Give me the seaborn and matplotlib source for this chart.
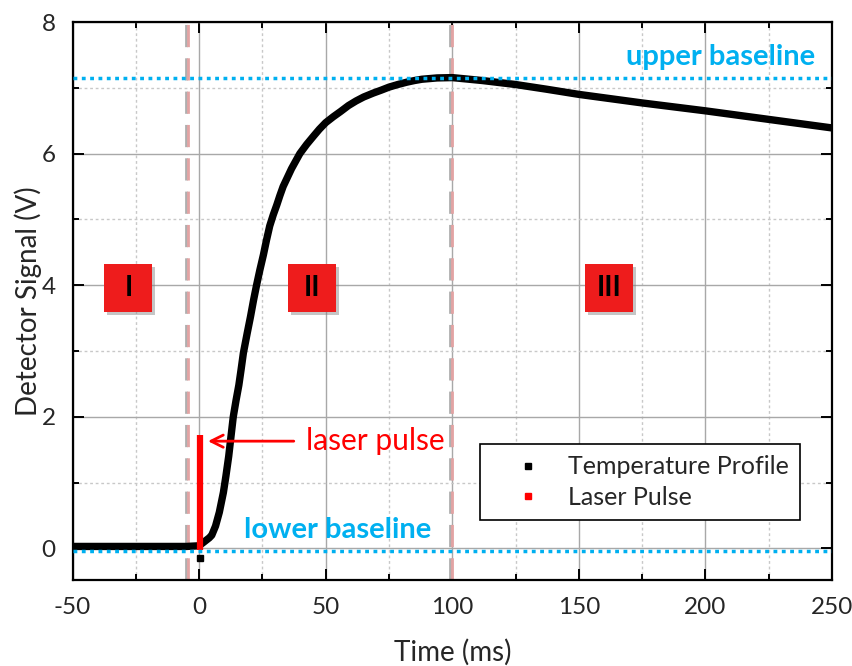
import matplotlib
matplotlib.use("Agg")
import matplotlib.pyplot as plt
import matplotlib.transforms as mtransforms
from matplotlib.lines import Line2D
from matplotlib.ticker import MultipleLocator
import seaborn as sns
import pandas as pd

# ---- data ----
time_ms = [-50, -40, -30, -20, -10, -5, 0, 1, 2, 3, 4, 5, 6.5, 8, 9.6, 10.6, 11.7, 12.6,
           13.5, 14.6, 15.7, 16.6, 17.5, 19, 20.3, 21.5, 22.7, 24, 25.4, 26.6, 27.9,
           29.3, 30.7, 31.9, 33.2, 36.5, 39.8, 42.5, 45.3, 47.5, 50, 53, 55.9, 59, 62,
           65, 68.8, 72, 75, 78.5, 82, 85, 88, 94, 100, 112, 125, 137, 150, 175, 200,
           225, 250]
signal_v = [0.03, 0.03, 0.03, 0.03, 0.03, 0.03, 0.04, 0.07, 0.10, 0.13, 0.16, 0.20, 0.34,
            0.55, 0.85, 1.10, 1.40, 1.70, 2.00, 2.25, 2.48, 2.72, 2.97, 3.27, 3.52, 3.77,
            4.00, 4.23, 4.46, 4.68, 4.90, 5.07, 5.22, 5.36, 5.50, 5.77, 6.00, 6.14, 6.27,
            6.37, 6.47, 6.56, 6.64, 6.73, 6.80, 6.86, 6.92, 6.965, 7.01, 7.05, 7.085, 7.11,
            7.13, 7.15, 7.155, 7.11, 7.05, 6.98, 6.90, 6.77, 6.65, 6.52, 6.39]
laser_t = [0.3, 0.3]
laser_v = [-0.02, 1.72]
outlier_t = [0.3]
outlier_v = [-0.15]
upper_baseline = 7.15
lower_baseline = -0.04
region_lines = [-4.3, 100]
region_labels = ["I", "II", "III"]
region_x = [-27.9, 44.7, 162]
region_y = [3.95, 3.95, 3.95]

df = pd.DataFrame({"t": time_ms, "v": signal_v})
dl = pd.DataFrame({"t": laser_t, "v": laser_v})

sns.set_style("ticks")
FONT = ["Lato", "DejaVu Sans"]
plt.rcParams["font.family"] = FONT
plt.rcParams["axes.unicode_minus"] = False

fig = plt.figure(figsize=(8.52, 6.66), dpi=100)
ax = fig.add_axes([72.5 / 852, 86 / 666, 759.5 / 852, 558 / 666])

BLUE = "#00B0F0"
PINK = "#E3A3A3"

# grid
ax.xaxis.set_major_locator(MultipleLocator(50))
ax.xaxis.set_minor_locator(MultipleLocator(25))
ax.yaxis.set_major_locator(MultipleLocator(2))
ax.yaxis.set_minor_locator(MultipleLocator(1))
ax.grid(which="major", color="#A8A8A8", lw=1.0, ls="-", zorder=0)
ax.grid(which="minor", color="#C8C8C8", lw=1.0, ls=(0, (2, 2)), zorder=0)
ax.set_axisbelow(True)

# region separators with shadow
xt = ax.get_xaxis_transform()
shadow_v = mtransforms.offset_copy(xt, fig=fig, x=-2, y=0, units="dots")
for xv in region_lines:
    ax.plot([xv, xv], [0, 1], color="#AFAFAF", lw=2.0, ls=(0, (8, 4)),
            transform=shadow_v, zorder=1)
    ax.plot([xv, xv], [0, 1], color=PINK, lw=2.0, ls=(0, (8, 4)),
            transform=xt, zorder=1.1)

# data
sns.lineplot(data=df, x="t", y="v", ax=ax, color="black", lw=5.3, legend=False,
             zorder=3, solid_capstyle="butt", solid_joinstyle="round",
             estimator=None, sort=False)
sns.lineplot(data=dl, x="t", y="v", ax=ax, color="red", lw=4.5, legend=False,
             zorder=4, solid_capstyle="butt", estimator=None, sort=False)
ax.plot(outlier_t, outlier_v, ls="none", marker="s", ms=5, color="black", zorder=3)

# baselines
ax.axhline(upper_baseline, color=BLUE, lw=2.5, ls=(0, (1.1, 1.3)), zorder=5)
ax.axhline(lower_baseline, color=BLUE, lw=2.5, ls=(0, (1.1, 1.3)), zorder=5)
ax.text(205.8, 7.47, "upper baseline", color=BLUE, fontsize=21, fontweight="bold",
        ha="center", va="center", zorder=6)
ax.text(54.9, 0.28, "lower baseline", color=BLUE, fontsize=21, fontweight="bold",
        ha="center", va="center", zorder=6)

# laser pulse annotation
ax.annotate("", xy=(2.4, 1.63), xytext=(38.5, 1.63),
            arrowprops=dict(arrowstyle="->", color="red", lw=2, mutation_scale=22),
            zorder=6)
ax.text(69.5, 1.63, "laser pulse", color="red", fontsize=21.5, ha="center",
        va="center", zorder=6)

# region boxes
shadow_t = mtransforms.offset_copy(ax.transData, fig=fig, x=3, y=-3, units="dots")
for lab, xr, yr in zip(region_labels, region_x, region_y):
    ax.plot([xr], [yr], marker="s", ms=35, mew=0, color="#808080", alpha=0.45,
            transform=shadow_t, zorder=6)
    ax.plot([xr], [yr], marker="s", ms=34, mew=0, color="#EE1C1C", zorder=7)
    ax.text(xr, yr, lab, fontsize=20, fontweight="bold", color="black",
            ha="center", va="center", zorder=8)

ax.set_xlim(-50, 250)
ax.set_ylim(-0.48, 8)
ax.set_xlabel("Time (ms)", fontsize=20, labelpad=15)
ax.set_ylabel("Detector Signal (V)", fontsize=20, labelpad=0)

ax.tick_params(which="both", direction="in", top=True, right=True, width=1.4,
               color="black")
ax.tick_params(which="major", length=8, labelsize=17.5, pad=12)
ax.tick_params(which="minor", length=4)
for s in ax.spines.values():
    s.set_color("black")
    s.set_linewidth(1.6)

handles = [Line2D([], [], ls="none", marker="s", ms=5, color="black"),
           Line2D([], [], ls="none", marker="s", ms=5, color="red")]
leg = ax.legend(handles, ["Temperature Profile", "Laser Pulse"], loc="lower right",
                bbox_to_anchor=(0.958, 0.1075), fontsize=18, frameon=True,
                fancybox=False, edgecolor="black", framealpha=1,
                borderpad=0.45, handletextpad=0.15, labelspacing=0.3,
                borderaxespad=0, handlelength=2.9)
leg.get_frame().set_linewidth(1.2)
leg.set_zorder(10)

fig.savefig("out.png", dpi=100)
